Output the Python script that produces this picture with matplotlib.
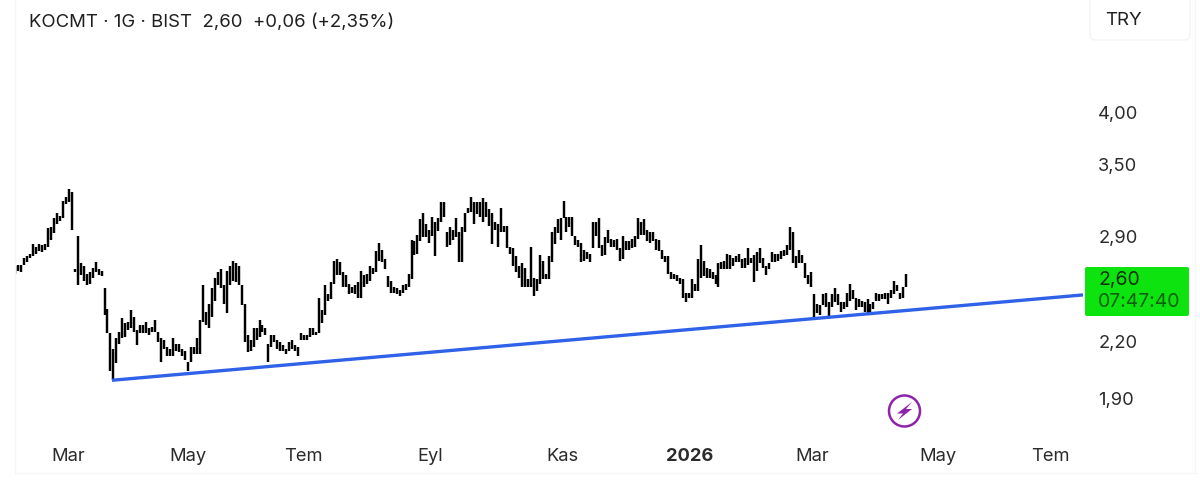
import matplotlib
matplotlib.use("Agg")
import matplotlib.pyplot as plt
from matplotlib.patches import Circle, FancyBboxPatch, Polygon, Rectangle

plt.rcParams['font.family'] = ['Inter', 'DejaVu Sans']

# daily high / low
highs = [2.68, 2.69, 2.69, 2.74, 2.75, 2.77, 2.84, 2.82, 2.84, 2.83, 2.84, 2.96, 2.97, 3.04, 3.08, 3.06, 3.18, 3.21, 3.28, 3.25,
         2.66, 2.90, 2.70, 2.68, 2.63, 2.64, 2.67, 2.71, 2.66, 2.65, 2.53, 2.40, 2.25, 2.16, 2.22, 2.26, 2.34, 2.31, 2.32, 2.39,
         2.35, 2.27, 2.30, 2.30, 2.32, 2.28, 2.29, 2.33, 2.26, 2.22, 2.21, 2.17, 2.16, 2.22, 2.19, 2.19, 2.16, 2.15, 2.09, 2.17,
         2.17, 2.22, 2.33, 2.55, 2.38, 2.43, 2.53, 2.60, 2.64, 2.66, 2.55, 2.65, 2.68, 2.72, 2.70, 2.68, 2.55, 2.43, 2.24, 2.21,
         2.28, 2.28, 2.33, 2.30, 2.28, 2.19, 2.24, 2.24, 2.21, 2.20, 2.18, 2.16, 2.20, 2.21, 2.18, 2.17,
         2.25, 2.24, 2.24, 2.28, 2.28, 2.26, 2.47, 2.39, 2.55, 2.49, 2.57, 2.72, 2.73, 2.71, 2.64, 2.62, 2.56, 2.54, 2.55, 2.57,
         2.65, 2.62, 2.63, 2.68, 2.67, 2.79, 2.85, 2.80, 2.73, 2.61, 2.58, 2.54, 2.53, 2.52, 2.55, 2.56, 2.63, 2.87, 2.86, 2.91,
         3.03, 3.08, 2.99, 2.95, 3.05, 3.01, 3.04, 3.17, 3.17, 2.93, 2.97, 2.95, 3.04, 2.93, 2.97, 3.08, 3.12, 3.21, 3.17, 3.17,
         3.17, 3.20, 3.17, 3.11, 3.08, 3.01, 2.99, 3.12, 2.98, 2.98, 2.82, 2.81, 2.75, 2.68, 2.70, 2.67, 2.59, 2.82, 2.60, 2.59,
         2.76, 2.72, 2.63, 2.75, 2.93, 2.97, 3.03, 3.04, 3.18, 3.05, 3.05, 3.05, 2.90, 2.87, 2.85, 2.80, 2.78, 2.77, 3.01, 3.01, 3.04,
         2.83, 2.89, 2.95, 2.88, 2.87, 2.88, 2.81, 2.90, 2.86, 2.86, 2.88, 2.90, 3.04, 3.01, 3.03, 2.95, 2.93, 2.93, 2.88, 2.87,
         2.80, 2.75, 2.75, 2.64, 2.63, 2.62, 2.60, 2.59, 2.50, 2.50, 2.59, 2.56, 2.73, 2.83, 2.72, 2.67, 2.66, 2.64, 2.62, 2.70,
         2.71, 2.72, 2.77, 2.76, 2.74, 2.75, 2.77, 2.73, 2.74, 2.81, 2.74, 2.76, 2.78, 2.81, 2.74, 2.68, 2.70, 2.78, 2.77, 2.77,
         2.79, 2.80, 2.83, 2.97, 2.93, 2.75, 2.80, 2.76, 2.70, 2.62, 2.64, 2.49, 2.43, 2.42, 2.49, 2.50, 2.44, 2.49, 2.53, 2.49,
         2.44, 2.44, 2.50, 2.56, 2.52, 2.47, 2.46, 2.45, 2.44, 2.46, 2.43, 2.44, 2.50, 2.49, 2.49, 2.50, 2.50, 2.52, 2.58, 2.55,
         2.50, 2.54, 2.63]
lows = [2.63, 2.65, 2.64, 2.69, 2.71, 2.74, 2.75, 2.77, 2.79, 2.78, 2.80, 2.82, 2.87, 2.92, 2.99, 3.02, 3.04, 3.15, 3.17, 2.95,
        2.64, 2.55, 2.62, 2.58, 2.55, 2.56, 2.60, 2.64, 2.62, 2.61, 2.36, 2.25, 2.04, 1.99, 2.08, 2.19, 2.22, 2.23, 2.27, 2.28,
        2.26, 2.18, 2.25, 2.25, 2.25, 2.24, 2.26, 2.26, 2.20, 2.09, 2.16, 2.12, 2.12, 2.12, 2.15, 2.14, 2.12, 2.10, 2.04, 2.09,
        2.13, 2.13, 2.13, 2.32, 2.30, 2.28, 2.35, 2.45, 2.55, 2.53, 2.43, 2.37, 2.55, 2.58, 2.57, 2.55, 2.42, 2.20, 2.14, 2.15,
        2.17, 2.21, 2.23, 2.26, 2.24, 2.09, 2.17, 2.20, 2.16, 2.15, 2.15, 2.13, 2.15, 2.16, 2.15, 2.12,
        2.21, 2.21, 2.21, 2.23, 2.24, 2.24, 2.25, 2.31, 2.36, 2.45, 2.46, 2.56, 2.62, 2.62, 2.54, 2.54, 2.49, 2.50, 2.49, 2.47,
        2.47, 2.54, 2.56, 2.58, 2.63, 2.64, 2.72, 2.71, 2.66, 2.54, 2.50, 2.50, 2.49, 2.48, 2.50, 2.52, 2.54, 2.59, 2.76, 2.77,
        2.86, 2.89, 2.89, 2.85, 2.90, 2.75, 2.94, 3.01, 3.05, 2.82, 2.83, 2.87, 2.89, 2.71, 2.71, 2.93, 3.08, 3.09, 2.99, 3.07,
        3.05, 3.01, 3.05, 2.98, 2.84, 2.95, 2.82, 2.93, 2.93, 2.81, 2.77, 2.68, 2.64, 2.60, 2.54, 2.54, 2.54, 2.54, 2.48, 2.51,
        2.56, 2.59, 2.59, 2.59, 2.71, 2.84, 2.92, 2.87, 3.04, 2.93, 2.97, 2.90, 2.83, 2.82, 2.71, 2.72, 2.73, 2.71, 2.81, 2.90, 2.81,
        2.75, 2.76, 2.85, 2.82, 2.82, 2.80, 2.72, 2.73, 2.80, 2.80, 2.81, 2.82, 2.88, 2.91, 2.91, 2.86, 2.85, 2.86, 2.80, 2.79,
        2.73, 2.71, 2.63, 2.59, 2.59, 2.58, 2.56, 2.47, 2.44, 2.47, 2.47, 2.51, 2.51, 2.60, 2.61, 2.60, 2.60, 2.59, 2.56, 2.54,
        2.66, 2.66, 2.66, 2.66, 2.68, 2.71, 2.71, 2.67, 2.67, 2.69, 2.70, 2.57, 2.65, 2.70, 2.67, 2.62, 2.66, 2.71, 2.71, 2.72,
        2.73, 2.75, 2.76, 2.80, 2.70, 2.67, 2.70, 2.70, 2.60, 2.56, 2.54, 2.33, 2.37, 2.36, 2.42, 2.41, 2.35, 2.41, 2.44, 2.42,
        2.38, 2.40, 2.41, 2.45, 2.46, 2.39, 2.41, 2.41, 2.38, 2.36, 2.38, 2.40, 2.45, 2.45, 2.46, 2.46, 2.43, 2.47, 2.49, 2.51,
        2.46, 2.47, 2.54]

month_pos = [17.4, 57.6, 96.4, 139, 183.2, 226.2, 267, 309.2, 347]
month_labels = ['Mar', 'May', 'Tem', 'Eyl', 'Kas', '2026', 'Mar', 'May', 'Tem']
price_ticks = [1.90, 2.20, 2.90, 3.50, 4.00]
price_labels = ['1,90', '2,20', '2,90', '3,50', '4,00']
trend_x = [32.2, 358]
trend_y = [1.99, 2.487]

W, H = 1200, 491
fig = plt.figure(figsize=(W / 100, H / 100), dpi=100, facecolor='white')

# page overlay in pixel coordinates, for the header and the price box
page = fig.add_axes([0, 0, 1, 1], zorder=3)
page.set_xlim(0, W)
page.set_ylim(H, 0)
page.axis('off')
page.patch.set_alpha(0)

ax = fig.add_axes([16 / W, (H - 437) / H, (1083 - 16) / W, (437 - 50) / H])
ax.set_yscale('log')
ax.set_xlim(0, 358)
ax.set_ylim(1.716, 4.715)
for s in ax.spines.values():
    s.set_visible(False)

bar_x = [i - 0.3 for i in range(len(highs))]
ax.vlines(bar_x, lows, highs, color='black', lw=1.75)
ax.plot(trend_x, trend_y, color='#2f62e8', lw=2.4, solid_capstyle='butt')

ax.yaxis.tick_right()
ax.set_yticks(price_ticks)
ax.set_yticklabels(price_labels)
ax.minorticks_off()
ax.tick_params(axis='y', length=0, pad=11, labelsize=13.2, labelcolor='#2b2b2b')
ax.set_xticks(month_pos)
ax.set_xticklabels(month_labels)
ax.tick_params(axis='x', length=0, pad=8, labelsize=13.2, labelcolor='#2b2b2b')
ax.get_xticklabels()[5].set_fontweight('bold')

# faint frame lines
page.plot([15, 15], [0, 473], color='#f6f6f6', lw=1)
page.plot([15, 1195], [473, 473], color='#f6f6f6', lw=1)
page.plot([1195, 1195], [0, 473], color='#f6f6f6', lw=1)

page.text(29, 22, 'KOCMT · 1G · BIST  2,60  +0,06 (+2,35%)', fontsize=13.35, color='#1f1f1f', va='center')

page.add_patch(FancyBboxPatch((1090, -6), 100, 46, boxstyle='round,pad=0,rounding_size=6',
                              fc='white', ec='#f4f4f4', lw=1))
page.text(1105, 20, 'TRY', fontsize=13.5, color='#1f1f1f', va='center')

page.add_patch(FancyBboxPatch((1085, 267), 104, 49, boxstyle='round,pad=0,rounding_size=2',
                              fc='#0de30f', ec='none'))
page.text(1098, 280, '2,60', fontsize=14, color='#0a2f0a', va='center')
page.text(1098, 302, '07:47:40', fontsize=14, color='#0b5f0b', va='center')

page.add_patch(Circle((904.5, 411), 15.5, fc='white', ec='#8e24aa', lw=1.8))
page.add_patch(Polygon([(912, 402), (897, 413.5), (903, 413.5), (898, 420), (912, 409), (906, 409)],
                       fc='#8e24aa', ec='none'))

fig.savefig('out.png', dpi=100)
